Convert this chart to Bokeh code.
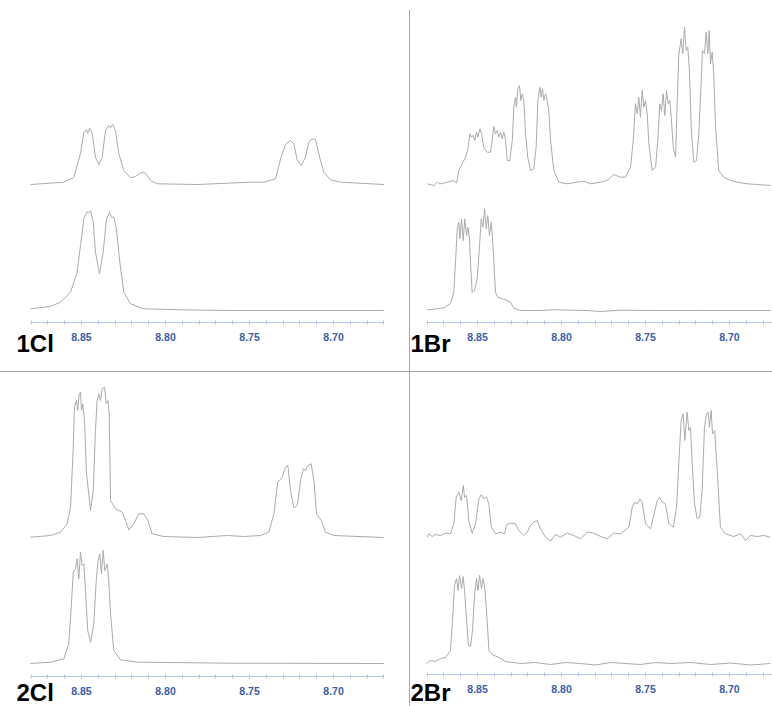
from bokeh.plotting import figure
from bokeh.layouts import row, column
from bokeh.models import FixedTicker, Label, Spacer, Range1d, NumeralTickFormatter
from bokeh.embed import file_html
from bokeh.resources import INLINE

# ---------------- data (chemical shift in ppm, intensity in arbitrary units) ----------------
major_ticks = [8.85, 8.80, 8.75, 8.70]
minor_ticks = [8.88, 8.87, 8.86, 8.85, 8.84, 8.83, 8.82, 8.81, 8.80, 8.79, 8.78, 8.77,
               8.76, 8.75, 8.74, 8.73, 8.72, 8.71, 8.70, 8.69, 8.68, 8.67]
panel_names = ["1Cl", "1Br", "2Cl", "2Br"]

# 1Cl, upper trace
cl1_upper_ppm = [8.8804, 8.8607, 8.8546, 8.8506, 8.8486, 8.8470, 8.8463, 8.8451, 8.8436, 8.8417,
                 8.8397, 8.8377, 8.8357, 8.8338, 8.8327, 8.8314, 8.8298, 8.8278, 8.8248, 8.8208,
                 8.8179, 8.8139, 8.8119, 8.8089, 8.8049, 8.7811, 8.7494, 8.7415, 8.7345, 8.7315,
                 8.7286, 8.7256, 8.7236, 8.7216, 8.7192, 8.7167, 8.7147, 8.7127, 8.7107, 8.7088,
                 8.7058, 8.7018, 8.6958, 8.6701]
cl1_upper_int = [0, 2.3, 7, 31, 52.3, 54.7, 51.3, 56.3, 51, 27.3,
                 19.7, 27.3, 54, 59, 56.7, 60, 54, 30.7, 14, 6.7,
                 8, 12.3, 11.3, 4, 0.7, 0, 2.3, 2.3, 5.7, 25.7,
                 40, 44, 40.7, 24, 19, 27.3, 42.3, 45.7, 44.7, 30.7,
                 12.3, 4.7, 2.3, 0]

# 1Cl, lower trace
cl1_lower_ppm = [8.8804, 8.8685, 8.8625, 8.8565, 8.8526, 8.8506, 8.8486, 8.8466, 8.8457, 8.8446,
                 8.8430, 8.8417, 8.8393, 8.8371, 8.8351, 8.8333, 8.8321, 8.8308, 8.8292, 8.8272,
                 8.8248, 8.8208, 8.8129, 8.7911, 8.7613, 8.6701]
cl1_lower_int = [1.7, 4, 8.3, 18.3, 38.3, 65, 91.7, 99, 97.7, 100,
                 88.3, 58.3, 36.7, 58.3, 91.7, 98.3, 93.3, 93.3, 81.7, 48.3,
                 18.3, 6.7, 1.7, 0.7, 0, 0]

# 1Br, upper trace
br1_upper_ppm = [8.8799, 8.8760, 8.8740, 8.8720, 8.8680, 8.8641, 8.8625, 8.8611, 8.8591, 8.8571,
                 8.8555, 8.8546, 8.8538, 8.8526, 8.8516, 8.8506, 8.8498, 8.8486, 8.8476, 8.8463,
                 8.8442, 8.8423, 8.8413, 8.8403, 8.8393, 8.8383, 8.8373, 8.8363, 8.8353, 8.8343,
                 8.8333, 8.8323, 8.8308, 8.8293, 8.8284, 8.8274, 8.8268, 8.8260, 8.8250, 8.8242,
                 8.8234, 8.8224, 8.8214, 8.8201, 8.8185, 8.8165, 8.8151, 8.8141, 8.8129, 8.8121,
                 8.8113, 8.8105, 8.8095, 8.8085, 8.8076, 8.8065, 8.8046, 8.8016, 8.7966, 8.7907,
                 8.7867, 8.7827, 8.7768, 8.7728, 8.7689, 8.7649, 8.7619, 8.7589, 8.7573, 8.7560,
                 8.7549, 8.7540, 8.7530, 8.7520, 8.7510, 8.7500, 8.7490, 8.7480, 8.7460, 8.7440,
                 8.7427, 8.7415, 8.7405, 8.7395, 8.7385, 8.7375, 8.7365, 8.7355, 8.7347, 8.7335,
                 8.7321, 8.7311, 8.7302, 8.7288, 8.7278, 8.7268, 8.7258, 8.7248, 8.7238, 8.7228,
                 8.7213, 8.7196, 8.7183, 8.7169, 8.7161, 8.7149, 8.7139, 8.7129, 8.7121, 8.7113,
                 8.7103, 8.7094, 8.7083, 8.7064, 8.7034, 8.6994, 8.6954, 8.6895, 8.6835, 8.6756]
br1_upper_int = [0.7, -1, 2.3, 0.7, 2.3, 4, 1.3, 14, 20.7, 27.3,
                 37.3, 50.7, 47.3, 49, 44, 52.3, 47.3, 55.7, 50.7, 37.3,
                 32.3, 32.3, 44, 58, 50.7, 54, 47.3, 52.3, 45.7, 52.3,
                 44, 24, 24, 44, 77.3, 87.3, 77.3, 95.7, 99, 84,
                 90.7, 84, 50.7, 27.3, 14, 15.7, 37.3, 84, 97.3, 87.3,
                 95.7, 84, 90.7, 84, 74, 44, 14, 2.3, 0.7, 2.3,
                 3.3, 0.7, 2.3, 4, 10, 7.3, 7.3, 17.3, 44, 80.7,
                 70.7, 87.3, 67.3, 94, 77.3, 84, 70.7, 40.7, 14, 17.3,
                 44, 80.7, 74, 90.7, 69, 94, 80.7, 84, 67.3, 37.3,
                 27.3, 84, 129, 145.7, 130.7, 157.3, 134, 137.3, 112.3, 57.3,
                 22.3, 24, 50.7, 100.7, 134, 130.7, 152.3, 130.7, 154, 120.7,
                 132.3, 110.7, 57.3, 14, 7.3, 4, 2.3, 0.7, 0, -1]

# 1Br, lower trace
br1_lower_ppm = [8.8799, 8.8740, 8.8701, 8.8661, 8.8641, 8.8631, 8.8621, 8.8611, 8.8605, 8.8595,
                 8.8585, 8.8576, 8.8565, 8.8558, 8.8548, 8.8542, 8.8532, 8.8518, 8.8502, 8.8488,
                 8.8478, 8.8468, 8.8458, 8.8448, 8.8439, 8.8429, 8.8418, 8.8407, 8.8393, 8.8379,
                 8.8353, 8.8323, 8.8304, 8.8284, 8.8244, 8.8125, 8.8046, 8.7847, 8.7768, 8.7649,
                 8.7470, 8.7173, 8.6756]
br1_lower_int = [0.7, 1.7, 2.7, 6.7, 18.3, 48.3, 81.7, 88.3, 71.7, 91.7,
                 70, 91.7, 75, 83.3, 71.7, 48.3, 18.3, 20, 31.7, 65,
                 91.7, 83.3, 101.7, 81.7, 95, 75, 88.3, 61.7, 18.3, 13.3,
                 11.7, 10, 8.3, 2.3, 0, 0, 0.7, 0, -1, 0.3,
                 0, 0, 0]

# 2Cl, upper trace
cl2_upper_ppm = [8.8804, 8.8685, 8.8625, 8.8585, 8.8565, 8.8549, 8.8542, 8.8530, 8.8522, 8.8514,
                 8.8506, 8.8500, 8.8492, 8.8482, 8.8470, 8.8446, 8.8430, 8.8417, 8.8407, 8.8397,
                 8.8387, 8.8377, 8.8363, 8.8353, 8.8343, 8.8335, 8.8327, 8.8298, 8.8258, 8.8238,
                 8.8218, 8.8189, 8.8159, 8.8129, 8.8105, 8.8079, 8.8010, 8.7811, 8.7633, 8.7534,
                 8.7435, 8.7385, 8.7355, 8.7332, 8.7305, 8.7286, 8.7272, 8.7256, 8.7236, 8.7216,
                 8.7196, 8.7180, 8.7167, 8.7153, 8.7133, 8.7117, 8.7101, 8.7073, 8.7048, 8.6998,
                 8.6701]
cl2_upper_int = [0.3, 2, 5.3, 13.7, 30.3, 90.3, 130.3, 137, 127, 143.7,
                 145.3, 127, 133.7, 117, 63.7, 27, 47, 107, 137, 143.7,
                 137, 148.7, 150.3, 133.7, 137, 123.7, 37, 28.7, 25.3, 17,
                 7.7, 13.7, 23.7, 23.7, 17, 3.7, 1, 0, 2, 1,
                 2, 5.3, 23.7, 55.3, 60.3, 70.3, 72, 47, 29.7, 32,
                 57, 68.7, 67, 72, 73.7, 57, 23.7, 17, 5.3, 2,
                 0]

# 2Cl, lower trace
cl2_lower_ppm = [8.8804, 8.8685, 8.8605, 8.8576, 8.8561, 8.8549, 8.8536, 8.8526, 8.8516, 8.8506,
                 8.8496, 8.8486, 8.8476, 8.8463, 8.8446, 8.8427, 8.8411, 8.8401, 8.8391, 8.8381,
                 8.8371, 8.8361, 8.8347, 8.8338, 8.8327, 8.8308, 8.8268, 8.8168, 8.7613, 8.6701]
cl2_lower_int = [0, 1.3, 4.7, 19.7, 56.3, 91.3, 94.7, 104.7, 84.7, 111.3,
                 98, 99.7, 73, 33, 21.3, 39.7, 86.3, 103, 109.7, 89.7,
                 113, 93, 99.7, 83, 49.7, 13, 3.7, 1.3, 0.3, 0]

# 2Br, upper trace
br2_upper_ppm = [8.8799, 8.8790, 8.8770, 8.8750, 8.8720, 8.8690, 8.8661, 8.8641, 8.8627, 8.8611,
                 8.8597, 8.8585, 8.8577, 8.8565, 8.8552, 8.8532, 8.8512, 8.8492, 8.8478, 8.8463,
                 8.8446, 8.8433, 8.8418, 8.8393, 8.8363, 8.8339, 8.8327, 8.8304, 8.8274, 8.8254,
                 8.8224, 8.8204, 8.8185, 8.8165, 8.8145, 8.8125, 8.8095, 8.8065, 8.8036, 8.8006,
                 8.7966, 8.7927, 8.7887, 8.7847, 8.7808, 8.7758, 8.7728, 8.7689, 8.7649, 8.7599,
                 8.7579, 8.7565, 8.7549, 8.7534, 8.7520, 8.7500, 8.7470, 8.7451, 8.7430, 8.7415,
                 8.7401, 8.7381, 8.7361, 8.7335, 8.7315, 8.7302, 8.7288, 8.7276, 8.7266, 8.7252,
                 8.7242, 8.7232, 8.7222, 8.7208, 8.7192, 8.7177, 8.7163, 8.7149, 8.7137, 8.7127,
                 8.7119, 8.7109, 8.7101, 8.7088, 8.7073, 8.7054, 8.7024, 8.6974, 8.6935, 8.6905,
                 8.6875, 8.6835, 8.6796, 8.6756]
br2_upper_int = [0.3, 3.7, 1, 3, 2, 4.3, 3.7, 13.7, 40.3, 45.3,
                 37, 52, 40.3, 42, 17, 4.3, 13.7, 38.7, 42.7, 38.7,
                 40.3, 33.7, 10.3, 3.7, 5.3, 3.7, 13, 14.3, 13.7, 7,
                 2, 5.3, 12, 15.3, 17, 8.7, 0.3, -3.7, 3, 0.3,
                 4.3, 2, -1.3, 5.3, 4.3, 0.3, -1.3, 4.3, 3.7, 10.3,
                 30.3, 35.3, 33.7, 38.7, 35.3, 13.7, 8.7, 22, 37, 40.3,
                 35.3, 33.7, 13.7, 10.3, 30.3, 73.7, 117, 123.7, 97, 125.3,
                 107, 110.3, 73.7, 33.7, 18.7, 20.3, 47, 110.3, 123.7, 125.3,
                 110.3, 127, 103.7, 107, 67, 10.3, 3.7, 1, 3.7, -3,
                 2, 1, 2, 0.3]

# 2Br, lower trace
br2_lower_ppm = [8.8804, 8.8780, 8.8750, 8.8720, 8.8690, 8.8661, 8.8649, 8.8637, 8.8625, 8.8616,
                 8.8607, 8.8595, 8.8586, 8.8577, 8.8565, 8.8554, 8.8542, 8.8530, 8.8518, 8.8506,
                 8.8497, 8.8488, 8.8476, 8.8467, 8.8455, 8.8443, 8.8432, 8.8411, 8.8363, 8.8333,
                 8.8244, 8.8155, 8.8065, 8.7976, 8.7887, 8.7798, 8.7708, 8.7619, 8.7530, 8.7440,
                 8.7351, 8.7232, 8.7113, 8.6994, 8.6875, 8.6756]
br2_lower_int = [0, 3, 2, 5, 6, 13, 43, 78, 85, 73,
                 88, 75, 87, 73, 43, 18, 17, 33, 68, 85,
                 73, 88, 75, 85, 73, 43, 13, 9, 5, 2,
                 0, 1, -1, 1, 0, -1.5, 1, 0, -1, 1,
                 0, 1, -1, 0.5, -1.5, 0]

for a, b in [(cl1_upper_ppm, cl1_upper_int), (cl1_lower_ppm, cl1_lower_int),
             (br1_upper_ppm, br1_upper_int), (br1_lower_ppm, br1_lower_int),
             (cl2_upper_ppm, cl2_upper_int), (cl2_lower_ppm, cl2_lower_int),
             (br2_upper_ppm, br2_upper_int), (br2_lower_ppm, br2_lower_int)]:
    assert len(a) == len(b), (len(a), len(b))

# ---------------- styling ----------------
TRACE_COLOR = "#ababab"
AXIS_COLOR = "#b4c7e7"
LABEL_BLUE = "#3a5da8"
SEP_COLOR = "#a6a6a6"
FONT = "Liberation Sans"
UPPER_OFFSET = 126


def make_panel(name, width, height, x_range, y_range, axis_bounds, axis_at,
               upper_ppm, upper_int, lower_ppm, lower_int, label_x, label_y):
    p = figure(width=width, height=height, title=None,
               x_range=Range1d(*x_range), y_range=Range1d(*y_range),
               output_backend="svg", toolbar_location=None, y_axis_location=None,
               min_border_left=0, min_border_right=0,
               min_border_top=0, min_border_bottom=0)
    p.outline_line_color = None
    p.xgrid.visible = False
    p.ygrid.visible = False
    p.background_fill_color = "white"
    p.border_fill_color = "white"

    ax = p.xaxis[0]
    ax.fixed_location = axis_at
    ax.bounds = axis_bounds
    ax.ticker = FixedTicker(ticks=major_ticks, minor_ticks=minor_ticks)
    ax.formatter = NumeralTickFormatter(format="0.00")
    ax.axis_line_color = AXIS_COLOR
    ax.major_tick_line_color = AXIS_COLOR
    ax.minor_tick_line_color = AXIS_COLOR
    ax.major_tick_in = 2
    ax.major_tick_out = 2
    ax.minor_tick_in = 2
    ax.minor_tick_out = 2
    ax.major_label_standoff = 8
    ax.major_label_text_color = LABEL_BLUE
    ax.major_label_text_font = FONT
    ax.major_label_text_font_style = "bold"
    ax.major_label_text_font_size = "10.5px"

    p.line(upper_ppm, [v + UPPER_OFFSET for v in upper_int],
           line_color=TRACE_COLOR, line_width=1, line_join="round")
    p.line(lower_ppm, lower_int, line_color=TRACE_COLOR, line_width=1, line_join="round")

    p.add_layout(Label(x=label_x, y=label_y, x_units="screen", y_units="screen",
                       text=name, text_font=FONT, text_font_style="bold",
                       text_font_size="24px", text_color="black",
                       text_baseline="alphabetic"))
    return p


p1 = make_panel(panel_names[0], 409, 371, (8.8982, 8.6548), (-61, 310), (8.6701, 8.8804), -12,
                cl1_upper_ppm, cl1_upper_int, cl1_lower_ppm, cl1_lower_int, 16, 28)
p2 = make_panel(panel_names[1], 362, 371, (8.8899, 8.6744), (-61, 310), (8.6744, 8.8804), -12,
                br1_upper_ppm, br1_upper_int, br1_lower_ppm, br1_lower_int, 0, 28)
p3 = make_panel(panel_names[2], 409, 334, (8.8982, 8.6548), (-43, 291), (8.6701, 8.8804), -13,
                cl2_upper_ppm, cl2_upper_int, cl2_lower_ppm, cl2_lower_int, 16, 14)
p4 = make_panel(panel_names[3], 362, 334, (8.8899, 8.6744), (-43, 291), (8.6744, 8.8804), -11,
                br2_upper_ppm, br2_upper_int, br2_lower_ppm, br2_lower_int, 0, 14)

vsep_top = column(Spacer(width=1, height=10),
                  Spacer(width=1, height=361, styles={"background-color": SEP_COLOR}))
vsep_bot = Spacer(width=1, height=334, styles={"background-color": SEP_COLOR})
hsep = Spacer(width=772, height=1, styles={"background-color": SEP_COLOR})

layout = column(row(p1, vsep_top, p2), hsep, row(p3, vsep_bot, p4))

with open("out.html", "w") as f:
    f.write(file_html(layout, INLINE))
